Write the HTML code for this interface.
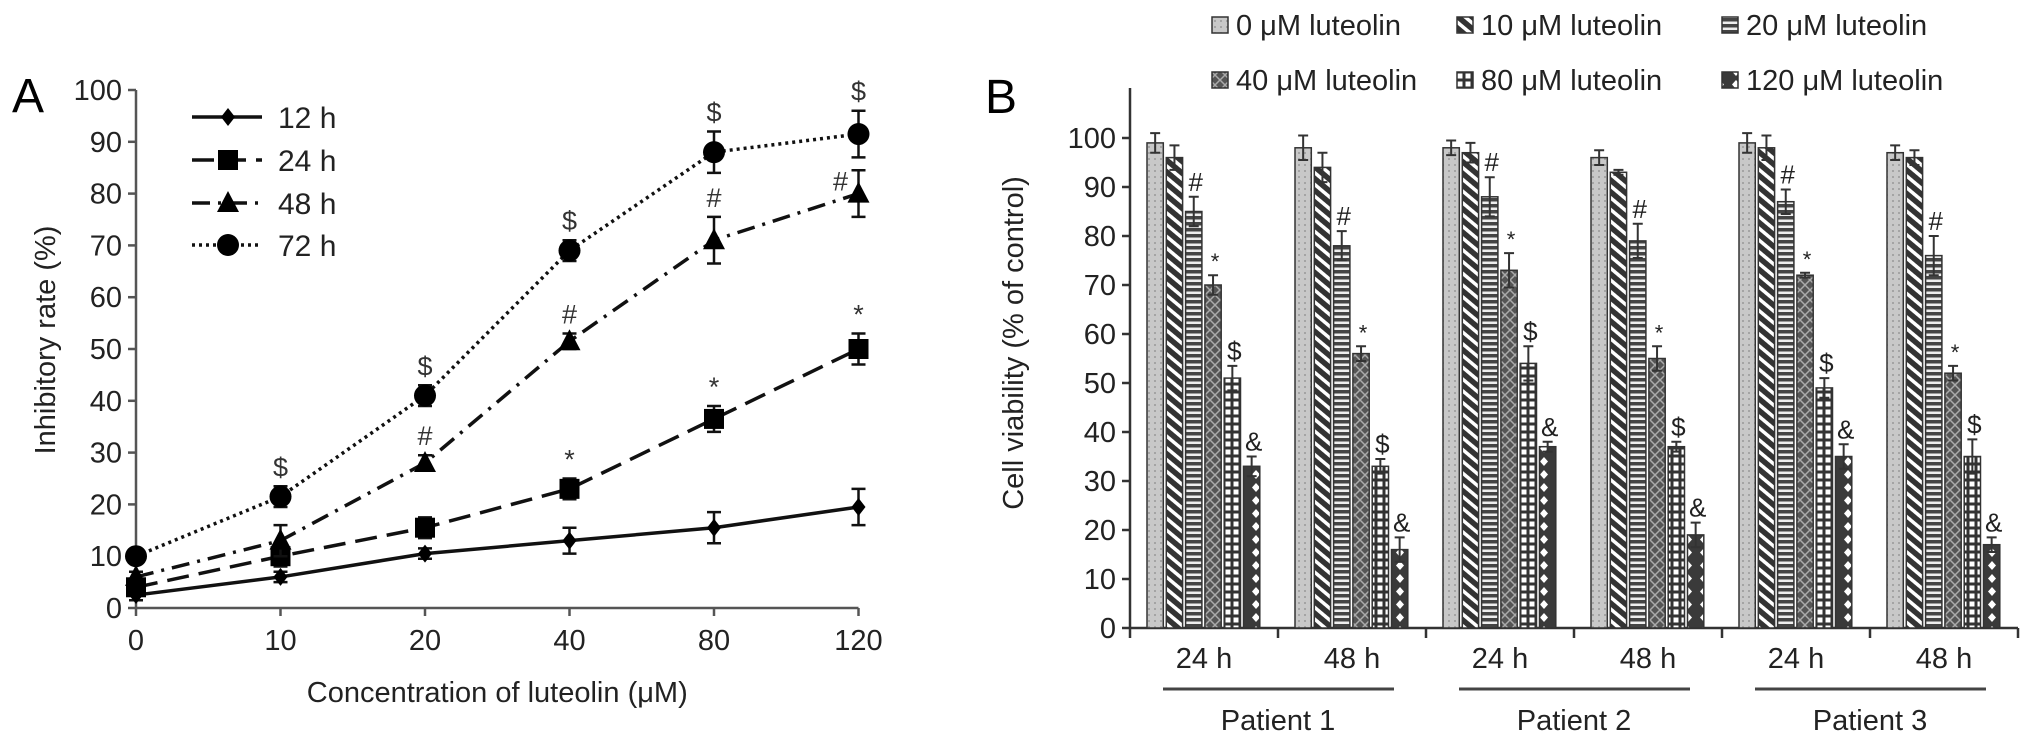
<!DOCTYPE html>
<html><head><meta charset="utf-8"><style>
html,body{margin:0;padding:0;background:#fff;}
svg{display:block;font-family:"Liberation Sans",Arial,sans-serif;}
</style></head><body>
<svg id="fig" width="2032" height="751" viewBox="0 0 2032 751" xmlns="http://www.w3.org/2000/svg">
<defs>
<pattern id="p0" width="6" height="6" patternUnits="userSpaceOnUse"><rect width="6" height="6" fill="#c8c8c8"/><circle cx="3" cy="3" r="1" fill="#999"/></pattern>
<pattern id="p1" width="9" height="9" patternUnits="userSpaceOnUse" patternTransform="rotate(40)"><rect width="9" height="9" fill="#fff"/><rect width="9" height="5.5" fill="#333"/></pattern>
<pattern id="p2" width="6" height="6" patternUnits="userSpaceOnUse"><rect width="6" height="6" fill="#eee"/><rect width="6" height="3.5" fill="#444"/></pattern>
<pattern id="p3" width="10" height="10" patternUnits="userSpaceOnUse"><rect width="10" height="10" fill="#555"/><path d="M0 0L5 5L10 0M0 10L5 5L10 10" stroke="#aaa" stroke-width="1.5" fill="none"/></pattern>
<pattern id="p4" width="8" height="8" patternUnits="userSpaceOnUse"><rect width="8" height="8" fill="#333"/><rect x="1.5" y="1.5" width="5" height="5" fill="#fff"/></pattern>
<pattern id="p5" width="16" height="13" patternUnits="userSpaceOnUse"><rect width="16" height="13" fill="#3a3a3a"/><path d="M8 2L12 6.5L8 11L4 6.5Z" fill="#fff"/></pattern>
</defs>
<g id="panelA"></g>
<g id="panelB"></g>
</svg>
<script>
// ---- Panel A data ----
const concLabels = ["0","10","20","40","80","120"];
const seriesNames = ["12 h","24 h","48 h","72 h"];
const v12 = [2.5,6,10.5,13,15.5,19.5];
const v24 = [4,10,15.5,23,36.5,50];
const v48 = [6,13,28,51.5,71,80];
const v72 = [10,21.5,41,69,88,91.5];
const e12 = [1,1,1,2.5,3,3.5];
const e24 = [1,2,2,2,2.5,3];
const e48 = [1,3,1.5,1.5,4.5,4.5];
const e72 = [1,2,2,2,4,4.5];
const sig24 = ["","","","*","*","*"];
const sig48 = ["","","#","#","#","#"];
const sig72 = ["","$","$","$","$","$"];
const aTicks = [0,10,20,30,40,50,60,70,80,90,100];
// ---- Panel B data ----
const groupLabels = ["24 h","48 h","24 h","48 h","24 h","48 h"];
const patientLabels = ["Patient 1","Patient 2","Patient 3"];
const doseNames = ["0 μM luteolin","10 μM luteolin","20 μM luteolin","40 μM luteolin","80 μM luteolin","120 μM luteolin"];
const dose0 = [99,98,98,96,99,97];
const dose10 = [96,94,97,93,98,96];
const dose20 = [85,78,88,79,87,76];
const dose40 = [70,56,73,55,72,52];
const dose80 = [51,33,54,37,49,35];
const dose120 = [33,16,37,19,35,17];
const err0 = [2,2.5,1.5,1.5,2,1.5];
const err10 = [2.5,3,2,0.5,2.5,1.5];
const err20 = [3,3,4,3.5,2.5,4];
const err40 = [2,1.5,3.5,2.5,0.5,1.5];
const err80 = [2.5,1.5,3.5,1,2,3.5];
const err120 = [2,2.5,1,2.5,2.5,1.5];
const doseSig = ["","","#","*","$","&"];
const bTicks = [0,10,20,30,40,50,60,70,80,90,100];

const NS="http://www.w3.org/2000/svg";
function mk(tag, attrs, parent, text){const e=document.createElementNS(NS,tag);for(const k in attrs)e.setAttribute(k,attrs[k]);if(text!==undefined)e.textContent=text;parent.appendChild(e);return e;}

// ===== Panel A =====
const A=document.getElementById('panelA');
const ax0=136, axStep=144.5, ay0=608, ayk=5.18;
const xA=i=>ax0+axStep*i, yA=v=>ay0-ayk*v;
let t=mk('text',{x:12,y:112,'font-size':48},A,'A');

let l=mk('line',{x1:ax0,y1:yA(100),x2:ax0,y2:ay0,stroke:'#555','stroke-width':2.5},A);

l=mk('line',{x1:ax0,y1:ay0,x2:xA(5),y2:ay0,stroke:'#555','stroke-width':2.5},A);

aTicks.forEach(v=>{
  mk('line',{x1:ax0-8,y1:yA(v),x2:ax0,y2:yA(v),stroke:'#555','stroke-width':2.5},A);
  const tx=mk('text',{x:ax0-14,y:yA(v)+10,'font-size':29,'text-anchor':'end',fill:'#222'},A,String(v));
  
});
concLabels.forEach((c,i)=>{
  mk('line',{x1:xA(i),y1:ay0,x2:xA(i),y2:ay0+8,stroke:'#555','stroke-width':2.5},A);
  const tx=mk('text',{x:xA(i),y:650,'font-size':29,'text-anchor':'middle',fill:'#222'},A,c);
  
});
t=mk('text',{x:xA(2.5),y:702,'font-size':29,'text-anchor':'middle',fill:'#222'},A,'Concentration of luteolin (μM)');

t=mk('text',{x:0,y:0,'font-size':29,'text-anchor':'middle',fill:'#222',transform:'translate(55,340) rotate(-90)'},A,'Inhibitory rate (%)');


const styles=[{d:'',m:'diamond'},{d:'22 10',m:'square'},{d:'18 8 3 8',m:'triangle'},{d:'3 4',m:'circle'}];
const vals=[v12,v24,v48,v72], errs=[e12,e24,e48,e72], sigs=[null,sig24,sig48,sig72];
function marker(g,type,x,y){
  if(type==='diamond')return mk('path',{d:`M${x} ${y-9}L${x+7} ${y}L${x} ${y+9}L${x-7} ${y}Z`,fill:'#000'},g);
  if(type==='square')return mk('rect',{x:x-10,y:y-10,width:20,height:20,fill:'#000'},g);
  if(type==='triangle')return mk('path',{d:`M${x} ${y-12}L${x+11} ${y+9}L${x-11} ${y+9}Z`,fill:'#000'},g);
  return mk('circle',{cx:x,cy:y,r:11,fill:'#000'},g);
}
vals.forEach((vs,si)=>{
  const g=mk('g',{},A);
  
  
  const pts=vs.map((v,i)=>xA(i)+','+yA(v)).join(' ');
  const pl=mk('polyline',{points:pts,fill:'none',stroke:'#111','stroke-width':3.5,'stroke-dasharray':styles[si].d},g);
  
  
  vs.forEach((v,i)=>{
    const x=xA(i),y=yA(v),e=errs[si][i];
    mk('path',{d:`M${x} ${yA(v+e)}V${yA(v-e)}M${x-7} ${yA(v+e)}H${x+7}M${x-7} ${yA(v-e)}H${x+7}`,stroke:'#111','stroke-width':2.5,fill:'none'},g);
    const m=marker(g,styles[si].m,x,y);
    
    
    if(sigs[si]&&sigs[si][i]){
      const s=sigs[si][i];
      let sx=x, sy=yA(v+e)-10;
      if(si===2&&i===5){sx=x-18;sy=yA(v+e)+20;}
      const st=mk('text',{x:sx,y:sy,'font-size':27,'text-anchor':'middle',fill:'#333'},g,s);
      
      
    }
  });
});
// legend A
const legY=[117,160,203,245];
seriesNames.forEach((n,i)=>{
  const g=mk('g',{},A);
  
  
  mk('line',{x1:192,y1:legY[i],x2:262,y2:legY[i],stroke:'#111','stroke-width':3.5,'stroke-dasharray':styles[i].d},g);
  marker(g,styles[i].m,228,legY[i]);
  mk('text',{x:278,y:legY[i]+11,'font-size':30,fill:'#222'},g,n);
});

// ===== Panel B =====
const B=document.getElementById('panelB');
const bx0=1130, by0=628, byk=4.9, gPitch=148, bw=19.3, gOff=17;
const yB=v=>by0-byk*v;
const barX=(g,d)=>bx0+gOff+g*gPitch+d*bw;
t=mk('text',{x:985,y:113,'font-size':48},B,'B');

l=mk('line',{x1:bx0,y1:88,x2:bx0,y2:by0,stroke:'#333','stroke-width':2.5},B);

l=mk('line',{x1:bx0,y1:by0,x2:bx0+6*gPitch,y2:by0,stroke:'#333','stroke-width':2.5},B);

bTicks.forEach(v=>{
  mk('line',{x1:bx0-8,y1:yB(v),x2:bx0,y2:yB(v),stroke:'#333','stroke-width':2.5},B);
  const tx=mk('text',{x:bx0-14,y:yB(v)+10,'font-size':29,'text-anchor':'end',fill:'#222'},B,String(v));
  
});
for(let g=0;g<=6;g++)mk('line',{x1:bx0+g*gPitch,y1:by0,x2:bx0+g*gPitch,y2:by0+10,stroke:'#333','stroke-width':2.5},B);
t=mk('text',{x:0,y:0,'font-size':29,'text-anchor':'middle',fill:'#222',transform:'translate(1023,343) rotate(-90)'},B,'Cell viability (% of control)');

const doses=[dose0,dose10,dose20,dose40,dose80,dose120];
const derrs=[err0,err10,err20,err40,err80,err120];
groupLabels.forEach((gl,g)=>{
  const grp=mk('g',{},B);
  
  
  doses.forEach((ds,d)=>{
    const v=ds[g],e=derrs[d][g],x=barX(g,d);
    const r=mk('rect',{x:x,y:yB(v),width:bw-3,height:by0-yB(v),fill:`url(#p${d})`,stroke:'#333','stroke-width':1.5},grp);
    
    
    const cx=x+(bw-3)/2;
    mk('path',{d:`M${cx} ${yB(v+e)}V${yB(v-e)}M${cx-5} ${yB(v+e)}H${cx+5}M${cx-5} ${yB(v-e)}H${cx+5}`,stroke:'#333','stroke-width':2,fill:'none'},grp);
    if(doseSig[d]){
      const st=mk('text',{x:cx+2,y:yB(v+e)-6,'font-size':d===3?22:26,'text-anchor':'middle',fill:'#222'},grp,doseSig[d]);
      
      
    }
  });
  const tx=mk('text',{x:bx0+g*gPitch+gPitch/2,y:668,'font-size':29,'text-anchor':'middle',fill:'#222'},B,gl);
  
});
patientLabels.forEach((p,i)=>{
  const c=bx0+gPitch*(2*i+1);
  const ln=mk('line',{x1:c-115,y1:689,x2:c+116,y2:689,stroke:'#444','stroke-width':3},B);
  
  const tx=mk('text',{x:c,y:730,'font-size':29,'text-anchor':'middle',fill:'#222'},B,p);
  
});
// legend B
const lgX=[1212,1457,1722], lgY=[25,80];
doseNames.forEach((n,i)=>{
  const g=mk('g',{},B);
  
  
  const x=lgX[i%3], y=lgY[Math.floor(i/3)];
  mk('rect',{x:x,y:y-8,width:16,height:16,fill:`url(#p${i})`,stroke:'#333','stroke-width':1.5},g);
  mk('text',{x:x+24,y:y+10,'font-size':29,fill:'#222'},g,n);
});
</script>
</body></html>
